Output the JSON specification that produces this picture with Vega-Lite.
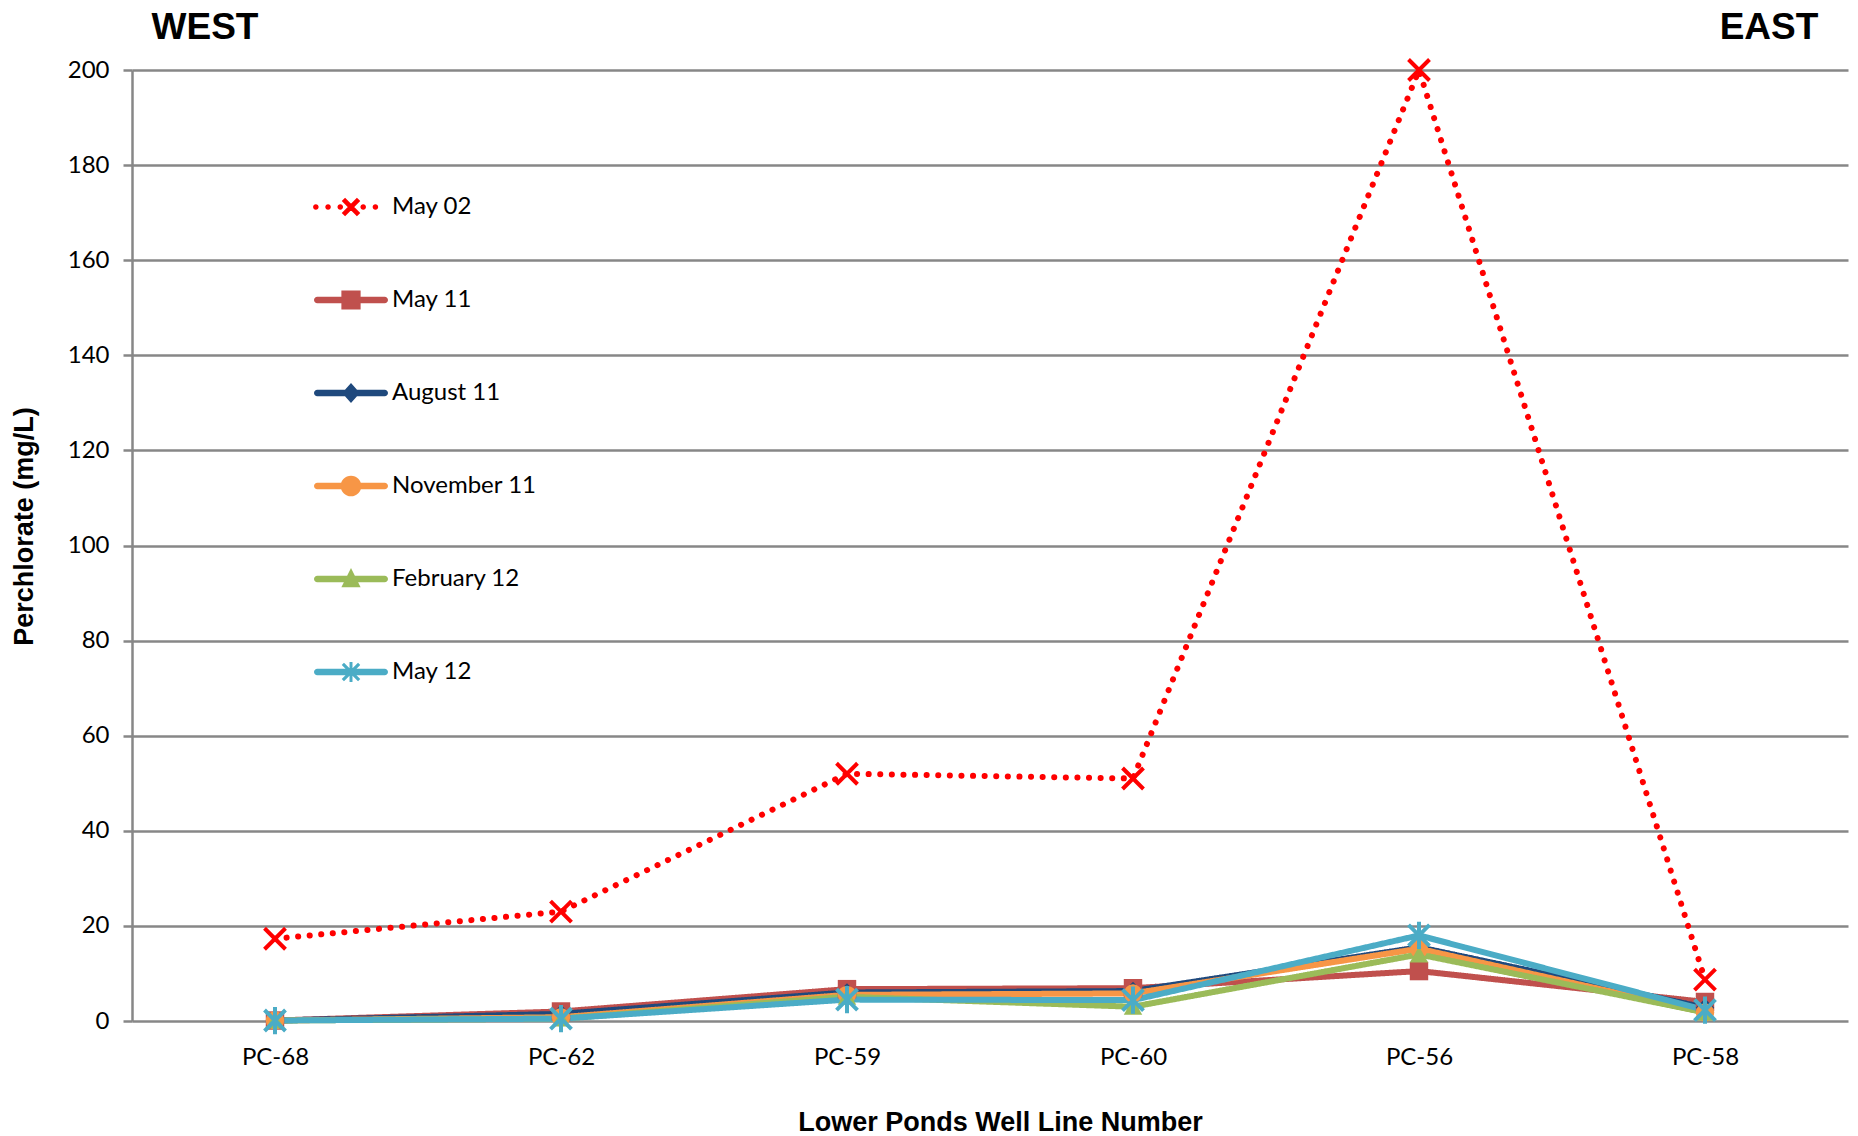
{
  "$schema": "https://vega.github.io/schema/vega-lite/v6.json",
  "width": 1716,
  "height": 951,
  "autosize": {"type": "none"},
  "padding": {"left": 132, "top": 70, "right": 10, "bottom": 115},
  "background": "white",
  "config": {
    "view": {"stroke": null},
    "font": "Lato",
    "axisY": {
      "grid": true, "gridColor": "#878787", "gridWidth": 2.5,
      "domain": true, "domainColor": "#878787", "domainWidth": 2.5,
      "ticks": true, "tickColor": "#878787", "tickWidth": 2.5, "tickSize": 9,
      "labelFont": "Lato", "labelFontSize": 24, "labelColor": "black", "labelPadding": 14,
      "titleFont": "Liberation Sans", "titleFontSize": 27, "titleFontWeight": "bold", "titleColor": "black", "titlePadding": 29
    },
    "axisX": {
      "grid": false, "domain": false, "ticks": false,
      "labelFont": "Lato", "labelFontSize": 24, "labelColor": "black", "labelPadding": 24, "labelAngle": 0,
      "titleFont": "Liberation Sans", "titleFontSize": 27, "titleFontWeight": "bold", "titleColor": "black", "titlePadding": 40
    }
  },
  "datasets": {
    "wells": [
      {"well": "PC-68", "series": "May 02", "value": 17.3},
      {"well": "PC-62", "series": "May 02", "value": 23},
      {"well": "PC-59", "series": "May 02", "value": 52},
      {"well": "PC-60", "series": "May 02", "value": 51},
      {"well": "PC-56", "series": "May 02", "value": 200},
      {"well": "PC-58", "series": "May 02", "value": 8.7},
      {"well": "PC-68", "series": "May 11", "value": 0.1},
      {"well": "PC-62", "series": "May 11", "value": 2},
      {"well": "PC-59", "series": "May 11", "value": 6.7},
      {"well": "PC-60", "series": "May 11", "value": 6.9},
      {"well": "PC-56", "series": "May 11", "value": 10.5},
      {"well": "PC-58", "series": "May 11", "value": 4},
      {"well": "PC-68", "series": "August 11", "value": 0.1},
      {"well": "PC-62", "series": "August 11", "value": 1.5},
      {"well": "PC-59", "series": "August 11", "value": 6},
      {"well": "PC-60", "series": "August 11", "value": 6.3},
      {"well": "PC-56", "series": "August 11", "value": 15.5},
      {"well": "PC-58", "series": "August 11", "value": 2.8},
      {"well": "PC-68", "series": "November 11", "value": 0.1},
      {"well": "PC-62", "series": "November 11", "value": 0.8},
      {"well": "PC-59", "series": "November 11", "value": 5.5},
      {"well": "PC-60", "series": "November 11", "value": 5.8},
      {"well": "PC-56", "series": "November 11", "value": 15.2},
      {"well": "PC-58", "series": "November 11", "value": 1.8},
      {"well": "PC-68", "series": "February 12", "value": 0.1},
      {"well": "PC-62", "series": "February 12", "value": 0.5},
      {"well": "PC-59", "series": "February 12", "value": 5.1},
      {"well": "PC-60", "series": "February 12", "value": 3},
      {"well": "PC-56", "series": "February 12", "value": 14},
      {"well": "PC-58", "series": "February 12", "value": 1.8},
      {"well": "PC-68", "series": "May 12", "value": 0.1},
      {"well": "PC-62", "series": "May 12", "value": 0.5},
      {"well": "PC-59", "series": "May 12", "value": 4.5},
      {"well": "PC-60", "series": "May 12", "value": 4.4},
      {"well": "PC-56", "series": "May 12", "value": 18},
      {"well": "PC-58", "series": "May 12", "value": 2.3}
    ]
  },
  "data": {"name": "wells"},
  "layer": [
    {
      "mark": {"type": "line", "strokeWidth": 6, "strokeCap": "round", "strokeJoin": "round"},
      "encoding": {
        "x": {"field": "well", "type": "nominal", "sort": ["PC-68", "PC-62", "PC-59", "PC-60", "PC-56", "PC-58"], "scale": {"type": "point", "padding": 0.5}, "title": "Lower Ponds Well Line Number", "axis": {"titleX": 868}},
        "y": {"field": "value", "type": "quantitative", "scale": {"domain": [0, 200], "nice": false}, "axis": {"values": [0, 20, 40, 60, 80, 100, 120, 140, 160, 180, 200], "titleY": 456}, "title": "Perchlorate (mg/L)"},
        "color": {"field": "series", "type": "nominal", "scale": {"domain": ["May 02", "May 11", "August 11", "November 11", "February 12", "May 12"], "range": ["#FF0000", "#C0504D", "#1F497D", "#F79646", "#9BBB59", "#4BACC6"]}, "legend": null},
        "strokeDash": {"field": "series", "type": "nominal", "scale": {"domain": ["May 02", "May 11", "August 11", "November 11", "February 12", "May 12"], "range": [[0.1, 11.5], [1, 0], [1, 0], [1, 0], [1, 0], [1, 0]]}, "legend": null}
      }
    },
    {
      "transform": [{"filter": {"field": "series", "oneOf": ["May 11", "August 11", "November 11", "February 12"]}}],
      "mark": {"type": "point", "filled": true, "size": 340, "opacity": 1, "strokeWidth": 0},
      "encoding": {
        "x": {"field": "well", "type": "nominal", "sort": ["PC-68", "PC-62", "PC-59", "PC-60", "PC-56", "PC-58"]},
        "y": {"field": "value", "type": "quantitative"},
        "color": {"field": "series", "type": "nominal", "scale": {"domain": ["May 11", "August 11", "November 11", "February 12"], "range": ["#C0504D", "#1F497D", "#F79646", "#9BBB59"]}, "legend": null},
        "shape": {"field": "series", "type": "nominal", "scale": {"domain": ["May 11", "August 11", "November 11", "February 12"], "range": ["square", "diamond", "circle", "triangle-up"]}, "legend": null}
      }
    },
    {
      "transform": [{"filter": {"field": "series", "oneOf": ["May 02", "May 12"]}}],
      "mark": {"type": "point", "filled": false, "size": 440, "strokeWidth": 4, "opacity": 1},
      "encoding": {
        "x": {"field": "well", "type": "nominal", "sort": ["PC-68", "PC-62", "PC-59", "PC-60", "PC-56", "PC-58"]},
        "y": {"field": "value", "type": "quantitative"},
        "color": {"field": "series", "type": "nominal", "scale": {"domain": ["May 02", "May 12"], "range": ["#FF0000", "#4BACC6"]}, "legend": null},
        "shape": {"field": "series", "type": "nominal", "scale": {"domain": ["May 02", "May 12"], "range": ["M-1,-1L1,1M-1,1L1,-1", "M-1,-1L1,1M-1,1L1,-1M0,-1.3L0,1.3"]}, "legend": null}
      }
    },
    {
      "transform": [{"filter": "datum.value < -1000"}],
      "mark": {"type": "point", "filled": true, "opacity": 1},
      "encoding": {
        "x": {"field": "well", "type": "nominal", "sort": ["PC-68", "PC-62", "PC-59", "PC-60", "PC-56", "PC-58"]},
        "y": {"field": "value", "type": "quantitative"},
        "color": {
          "field": "series", "type": "nominal",
          "scale": {"domain": ["May 02", "May 11", "August 11", "November 11", "February 12", "May 12"], "range": ["#FF0000", "#C0504D", "#1F497D", "#F79646", "#9BBB59", "#4BACC6"]},
          "legend": {"title": null, "orient": "none", "legendX": 182, "legendY": 100, "direction": "vertical", "symbolSize": 5476, "symbolStrokeWidth": 0, "symbolOpacity": 1, "labelFont": "Lato", "labelFontSize": 24, "labelColor": "black", "labelOffset": 4, "rowPadding": 44, "padding": 0, "labelLimit": 400}
        },
        "shape": {
          "field": "series", "type": "nominal",
          "scale": {"domain": ["May 02", "May 11", "August 11", "November 11", "February 12", "May 12"], "range": [
            "M-1.025,0a0.075,0.075 0 1,0 0.15,0a0.075,0.075 0 1,0 -0.15,0Z M-0.695,0a0.075,0.075 0 1,0 0.15,0a0.075,0.075 0 1,0 -0.15,0Z M-0.365,0a0.075,0.075 0 1,0 0.15,0a0.075,0.075 0 1,0 -0.15,0Z M0.255,0a0.075,0.075 0 1,0 0.15,0a0.075,0.075 0 1,0 -0.15,0Z M0.585,0a0.075,0.075 0 1,0 0.15,0a0.075,0.075 0 1,0 -0.15,0Z M-0.25,-0.16L-0.16,-0.25L0.25,0.16L0.16,0.25Z M-0.16,0.25L-0.25,0.16L0.16,-0.25L0.25,-0.16Z",
            "M-0.91,-0.09H0.91A0.09,0.09 0 0,1 0.91,0.09H-0.91A0.09,0.09 0 0,1 -0.91,-0.09Z M-0.26,-0.26H0.26V0.26H-0.26Z",
            "M-0.91,-0.09H0.91A0.09,0.09 0 0,1 0.91,0.09H-0.91A0.09,0.09 0 0,1 -0.91,-0.09Z M0,-0.27L0.24,0L0,0.27L-0.24,0Z",
            "M-0.91,-0.09H0.91A0.09,0.09 0 0,1 0.91,0.09H-0.91A0.09,0.09 0 0,1 -0.91,-0.09Z M-0.28,0A0.28,0.28 0 1,1 0.28,0A0.28,0.28 0 1,1 -0.28,0Z",
            "M-0.91,-0.09H0.91A0.09,0.09 0 0,1 0.91,0.09H-0.91A0.09,0.09 0 0,1 -0.91,-0.09Z M0,-0.3L0.26,0.22L-0.26,0.22Z",
            "M-0.91,-0.09H0.91A0.09,0.09 0 0,1 0.91,0.09H-0.91A0.09,0.09 0 0,1 -0.91,-0.09Z M-0.25,-0.19L-0.19,-0.25L0.25,0.19L0.19,0.25Z M-0.19,0.25L-0.25,0.19L0.19,-0.25L0.25,-0.19Z M-0.04,-0.27H0.04V0.27H-0.04Z"
          ]},
          "legend": {"title": null, "orient": "none", "legendX": 182, "legendY": 100, "direction": "vertical", "symbolSize": 5476, "symbolStrokeWidth": 0, "symbolOpacity": 1, "labelFont": "Lato", "labelFontSize": 24, "labelColor": "black", "labelOffset": 4, "rowPadding": 44, "padding": 0, "labelLimit": 400}
        }
      }
    },
    {
      "data": {"values": [{"well": "PC-68", "label": "WEST"}]},
      "mark": {"type": "text", "font": "Liberation Sans", "fontSize": 37, "fontWeight": "bold", "dx": -70, "dy": -42, "baseline": "middle", "align": "center", "color": "black"},
      "encoding": {
        "x": {"field": "well", "type": "nominal", "sort": ["PC-68", "PC-62", "PC-59", "PC-60", "PC-56", "PC-58"]},
        "y": {"datum": 200, "type": "quantitative"},
        "text": {"field": "label"}
      }
    },
    {
      "data": {"values": [{"well": "PC-58", "label": "EAST"}]},
      "mark": {"type": "text", "font": "Liberation Sans", "fontSize": 37, "fontWeight": "bold", "dx": 64, "dy": -42, "baseline": "middle", "align": "center", "color": "black"},
      "encoding": {
        "x": {"field": "well", "type": "nominal", "sort": ["PC-68", "PC-62", "PC-59", "PC-60", "PC-56", "PC-58"]},
        "y": {"datum": 200, "type": "quantitative"},
        "text": {"field": "label"}
      }
    }
  ],
  "resolve": {"scale": {"color": "independent", "shape": "independent", "strokeDash": "independent"}}
}
